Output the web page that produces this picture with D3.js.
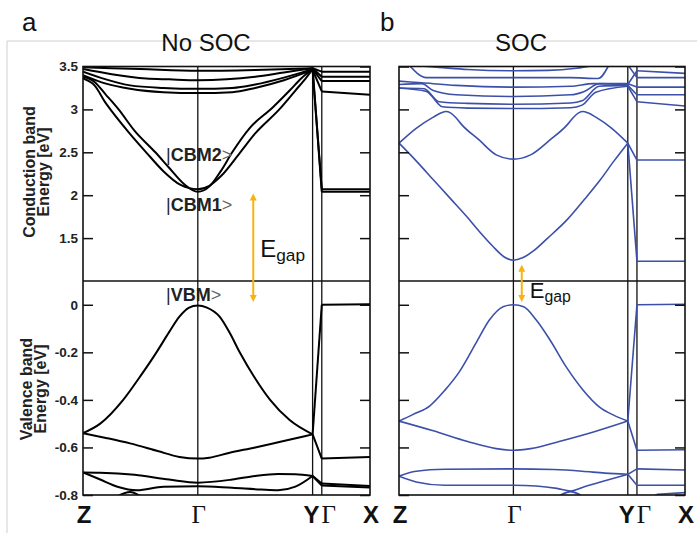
<!DOCTYPE html>
<html><head><meta charset="utf-8">
<script src="https://cdn.jsdelivr.net/npm/d3@7"></script>
<style>html,body{margin:0;padding:0;background:#fff;} svg{display:block;}</style>
</head><body>
<svg id="chart" width="697" height="535"></svg>
<script>
// ---------- data (k path: Z=0, Γ=1, Y=2, Γ=2.08, X=2.5 ; energies in eV) ----------
const kPoints = [0, 1, 2, 2.08, 2.5];
const kLabels = ["Z", "Γ", "Y", "Γ", "X"];
const condTicks = [3.5, 3, 2.5, 2, 1.5];
const condTickLabels = ["3.5", "3", "2.5", "2", "1.5"];
const valTicks = [0, -0.2, -0.4, -0.6, -0.8];
const valTickLabels = ["0", "-0.2", "-0.4", "-0.6", "-0.8"];
const condRange = [1.0, 3.5];
const valRange = [-0.8, 0.1];

// No SOC – conduction bands
const noSocCond = [
  [[0,3.49],[0.5,3.47],[1,3.45],[1.5,3.46],[2,3.48],[2.08,3.44],[2.5,3.44]],
  [[0,3.47],[0.25,3.41],[0.55,3.36],[0.75,3.35],[1,3.34],[1.25,3.35],[1.5,3.38],[1.75,3.43],[2,3.48],[2.08,3.38],[2.5,3.38]],
  [[0,3.44],[0.2,3.35],[0.41,3.28],[0.7,3.25],[1,3.24],[1.3,3.25],[1.5,3.29],[1.75,3.37],[2,3.47],[2.08,3.33],[2.5,3.33]],
  [[0,3.40],[0.2,3.30],[0.41,3.24],[0.7,3.20],[1,3.19],[1.3,3.20],[1.5,3.25],[1.75,3.34],[2,3.46],[2.08,3.21],[2.5,3.17]],
  [[0,3.38],[0.1,3.32],[0.2,3.17],[0.31,3.0],[0.45,2.75],[0.63,2.5],[0.75,2.32],[0.88,2.13],[1,2.04],[1.1,2.10],[1.2,2.28],[1.3,2.50],[1.45,2.78],[1.65,3.02],[1.8,3.22],[1.9,3.36],[2,3.47],[2.08,2.04],[2.5,2.04]],
  [[0,3.36],[0.1,3.28],[0.2,3.07],[0.25,2.98],[0.4,2.73],[0.55,2.50],[0.7,2.28],[0.85,2.12],[1,2.07],[1.1,2.11],[1.2,2.22],[1.37,2.50],[1.5,2.72],[1.71,3.0],[1.85,3.22],[1.95,3.38],[2,3.47],[2.08,2.07],[2.5,2.07]]
];
// No SOC – valence bands
const noSocVal = [
  [[0,-0.54],[0.15,-0.50],[0.35,-0.40],[0.5,-0.30],[0.64,-0.20],[0.75,-0.115],[0.84,-0.05],[0.92,-0.013],[1,-0.003],[1.08,-0.012],[1.19,-0.05],[1.28,-0.12],[1.365,-0.20],[1.5,-0.31],[1.63,-0.40],[1.8,-0.485],[2,-0.545],[2.08,0.0],[2.5,0.002]],
  [[0,-0.54],[0.2,-0.56],[0.41,-0.583],[0.65,-0.615],[0.84,-0.64],[1,-0.647],[1.1,-0.643],[1.27,-0.623],[1.5,-0.60],[1.71,-0.577],[2,-0.545],[2.08,-0.647],[2.5,-0.64]],
  [[0,-0.705],[0.15,-0.706],[0.45,-0.715],[0.75,-0.735],[1,-0.748],[1.3,-0.735],[1.5,-0.72],[1.7,-0.712],[1.85,-0.713],[2,-0.72],[2.08,-0.752],[2.5,-0.762]],
  [[0,-0.705],[0.15,-0.735],[0.3,-0.765],[0.47,-0.78],[0.7,-0.765],[1,-0.763],[1.3,-0.77],[1.55,-0.777],[1.7,-0.78],[1.85,-0.765],[2,-0.72],[2.08,-0.76],[2.5,-0.768]],
  [[0.3,-0.805],[0.41,-0.787],[0.5,-0.805]]
];
// SOC – conduction bands
const socCond = [
  [[0.08,3.53],[0.24,3.37],[0.5,3.37],[1,3.37],[1.5,3.37],[1.74,3.36],[1.84,3.53]],
  [[0.15,3.51],[0.35,3.49],[0.6,3.465],[1,3.45],[1.3,3.455],[1.55,3.48],[1.7,3.51]],
  [[0,3.33],[0.2,3.31],[0.5,3.28],[1,3.26],[1.5,3.27],[1.7,3.30],[2,3.29],[2.08,3.45],[2.5,3.42]],
  [[0,3.29],[0.2,3.30],[0.3,3.22],[0.5,3.17],[1,3.15],[1.5,3.17],[1.62,3.21],[1.75,3.30],[2,3.30],[2.08,3.26],[2.5,3.26]],
  [[0,3.25],[0.22,3.24],[0.35,3.09],[0.6,3.07],[1,3.06],[1.5,3.075],[1.6,3.10],[1.75,3.27],[2,3.28],[2.08,3.17],[2.5,3.17]],
  [[0,3.25],[0.24,3.21],[0.38,3.03],[0.6,3.015],[1,3.01],[1.5,3.02],[1.6,3.05],[1.72,3.20],[2,3.27],[2.08,3.09],[2.5,3.04]],
  [[2,3.52],[2.08,3.37],[2.5,3.37]],
  [[0,2.607],[0.15,2.78],[0.3,2.91],[0.37,2.96],[0.41,2.975],[0.45,2.96],[0.5,2.90],[0.55,2.82],[0.7,2.645],[0.85,2.47],[1,2.42],[1.15,2.47],[1.32,2.645],[1.47,2.82],[1.52,2.90],[1.57,2.96],[1.61,2.975],[1.65,2.96],[1.72,2.91],[1.86,2.78],[2,2.607],[2.08,2.41],[2.5,2.41]],
  [[0,2.607],[0.15,2.40],[0.3,2.18],[0.45,1.96],[0.59,1.754],[0.7,1.58],[0.82,1.405],[0.92,1.28],[1,1.242],[1.08,1.27],[1.175,1.35],[1.3,1.50],[1.47,1.715],[1.62,1.95],[1.76,2.18],[1.88,2.40],[2,2.607],[2.08,1.23],[2.5,1.23]]
];
// SOC – valence bands
const socVal = [
  [[0,-0.489],[0.12,-0.462],[0.27,-0.425],[0.4,-0.36],[0.53,-0.28],[0.68,-0.155],[0.79,-0.064],[0.91,-0.008],[1,0.0],[1.09,-0.008],[1.2,-0.064],[1.32,-0.148],[1.46,-0.26],[1.61,-0.359],[1.75,-0.429],[1.88,-0.465],[2,-0.489],[2.08,0.0],[2.5,0.002]],
  [[0,-0.489],[0.3,-0.53],[0.6,-0.575],[0.85,-0.605],[1,-0.612],[1.15,-0.605],[1.4,-0.575],[1.7,-0.535],[2,-0.489],[2.08,-0.612],[2.5,-0.61]],
  [[0,-0.721],[0.15,-0.70],[0.4,-0.692],[1,-0.69],[1.35,-0.693],[1.6,-0.70],[1.8,-0.708],[2,-0.713],[2.08,-0.69],[2.5,-0.695]],
  [[0,-0.721],[0.15,-0.745],[0.4,-0.759],[1,-0.759],[1.2,-0.762],[1.38,-0.772],[1.5,-0.783],[1.62,-0.765],[1.8,-0.74],[2,-0.713],[2.08,-0.759],[2.5,-0.759]],
  [[1.38,-0.81],[1.5,-0.786],[1.62,-0.81]],
  [[2.2,-0.81],[2.26,-0.797],[2.5,-0.79]]
];
// gap arrows: [k position, top energy (conduction), bottom energy (valence)]
const gapLeft = [1.483, 2.02, 0.012];
const gapRight = [1.073, 1.19, 0.012];

// ---------- drawing ----------
const svg = d3.select("#chart");
svg.append("rect").attr("width",697).attr("height",535).attr("fill","#fff");
const SANS = "'Liberation Sans', Arial, Helvetica, sans-serif";
const SERIF = "'Liberation Serif', 'Times New Roman', serif";
const ORANGE = "#f6b40e";

// light gray frame
svg.append("line").attr("x1",7).attr("y1",41).attr("x2",697).attr("y2",41).attr("stroke","#cfcfcf").attr("stroke-width",1);
svg.append("line").attr("x1",7).attr("y1",41).attr("x2",7).attr("y2",533).attr("stroke","#cfcfcf").attr("stroke-width",1);

const panels = [
  {id:"a", x0:83, x1:370, cond:noSocCond, val:noSocVal, color:"#000", sw:2, labels:true},
  {id:"b", x0:399, x1:685, cond:socCond, val:socVal, color:"#3c50aa", sw:1.6, labels:false}
];
const yC = d3.scaleLinear().domain(condRange).range([281, 66.5]);
const yV = d3.scaleLinear().domain(valRange).range([495, 281]);

function split(band){
  const a = band.filter(p=>p[0]<=2), b = band.filter(p=>p[0]>=2 && p[0]<=2.08), c = band.filter(p=>p[0]>=2.08);
  return [[a,true],[b,false],[c,false]].filter(s=>s[0].length>=2);
}

panels.forEach(p=>{
  const x = d3.scaleLinear().domain([0,2.5]).range([p.x0,p.x1]);
  p.x = x;
  const defs = svg.append("defs");
  defs.append("clipPath").attr("id","cc"+p.id).append("rect").attr("x",p.x0).attr("y",yC.range()[1]).attr("width",p.x1-p.x0).attr("height",yC.range()[0]-yC.range()[1]);
  defs.append("clipPath").attr("id","cv"+p.id).append("rect").attr("x",p.x0).attr("y",yV.range()[1]).attr("width",p.x1-p.x0).attr("height",yV.range()[0]-yV.range()[1]);

  // high-symmetry vertical lines
  svg.append("g").selectAll("line").data(kPoints.slice(1,4)).join("line")
    .attr("x1",d=>x(d)).attr("x2",d=>x(d)).attr("y1",yC.range()[1]).attr("y2",yV.range()[0])
    .attr("stroke","#111").attr("stroke-width",1.3);
  // divider
  svg.append("line").attr("x1",p.x0).attr("x2",p.x1).attr("y1",281).attr("y2",281).attr("stroke","#111").attr("stroke-width",1.3);

  const lineSmooth = (sc)=>d3.line().x(d=>x(d[0])).y(d=>sc(d[1])).curve(d3.curveMonotoneX);
  const lineStraight = (sc)=>d3.line().x(d=>x(d[0])).y(d=>sc(d[1]));
  [[p.cond,yC,"cc"],[p.val,yV,"cv"]].forEach(([bands,sc,cid])=>{
    const g = svg.append("g").attr("clip-path",`url(#${cid}${p.id})`);
    bands.forEach(b=>{
      split(b).forEach(([pts,smooth])=>{
        g.append("path").attr("d",(smooth?lineSmooth(sc):lineStraight(sc))(pts))
          .attr("fill","none").attr("stroke",p.color).attr("stroke-width",p.sw).attr("stroke-linejoin","round");
      });
    });
  });

  // ticks
  const tickStyle = g=>{
    g.select(".domain").remove();
    g.selectAll(".tick line").attr("stroke","#111").attr("stroke-width",1.5);
    g.selectAll(".tick text").attr("font-family",SANS).attr("font-weight","bold").attr("font-size",13.5).attr("fill","#222");
  };
  svg.append("g").attr("transform",`translate(${p.x0},0)`)
    .call(d3.axisLeft(yC).tickValues(condTicks).tickSize(-10).tickPadding(5).tickFormat((d,i)=>p.labels?condTickLabels[i]:""))
    .call(tickStyle);
  svg.append("g").attr("transform",`translate(${p.x0},0)`)
    .call(d3.axisLeft(yV).tickValues(valTicks).tickSize(-10).tickPadding(5).tickFormat((d,i)=>p.labels?valTickLabels[i]:""))
    .call(tickStyle);
  svg.append("g").attr("transform",`translate(${p.x1},0)`)
    .call(d3.axisRight(yC).tickValues(condTicks).tickSize(-10).tickFormat("")).call(tickStyle);
  svg.append("g").attr("transform",`translate(${p.x1},0)`)
    .call(d3.axisRight(yV).tickValues(valTicks).tickSize(-10).tickFormat("")).call(tickStyle);

  // frame
  svg.append("rect").attr("x",p.x0).attr("y",yC.range()[1]).attr("width",p.x1-p.x0).attr("height",yV.range()[0]-yC.range()[1])
    .attr("fill","none").attr("stroke","#111").attr("stroke-width",1.6);

  // k labels
  const offs = [1, 1, -1, 7, 1];
  kPoints.forEach((k,i)=>{
    const isG = kLabels[i]==="Γ";
    svg.append("text").attr("x",x(k)+offs[i]).attr("y",523).attr("text-anchor","middle")
      .attr("font-family",isG?SERIF:SANS).attr("font-weight",isG?"normal":"bold")
      .attr("font-size",isG?25:24).attr("fill","#111").text(kLabels[i]);
  });
});

// titles / panel letters
svg.append("text").attr("x",22).attr("y",31).attr("font-family",SANS).attr("font-size",26).attr("fill","#111").text("a");
svg.append("text").attr("x",380).attr("y",31).attr("font-family",SANS).attr("font-size",26).attr("fill","#111").text("b");
svg.append("text").attr("x",206).attr("y",51).attr("text-anchor","middle").attr("font-family",SANS).attr("font-size",24).attr("fill","#111").text("No SOC");
svg.append("text").attr("x",521).attr("y",51).attr("text-anchor","middle").attr("font-family",SANS).attr("font-size",24).attr("fill","#111").text("SOC");

// y-axis titles
function vtitle(lines, xs, cy){
  lines.forEach((t,i)=>{
    svg.append("text").attr("transform",`translate(${xs[i]},${cy}) rotate(-90)`).attr("text-anchor","middle")
      .attr("font-family",SANS).attr("font-weight","bold").attr("font-size",16).attr("fill","#222").text(t);
  });
}
vtitle(["Conduction band","Energy [eV]"],[35,49],172);
vtitle(["Valence band","Energy [eV]"],[32,46],389);

// state labels
function ket(x,y,name){
  const t = svg.append("text").attr("x",x).attr("y",y).attr("font-family",SANS).attr("font-size",18).attr("fill","#222");
  t.append("tspan").attr("font-weight","normal").text("|");
  t.append("tspan").attr("font-weight","bold").text(name);
  t.append("tspan").attr("font-weight","normal").attr("fill","#666").text(">");
}
ket(166,161,"CBM2");
ket(166,211,"CBM1");
ket(166,301,"VBM");

// gap arrows
function gapArrow(px, g, ex, ey, fs){
  const xx = px.x(g[0]), y1 = yC(g[1]), y2 = yV(g[2]);
  svg.append("line").attr("x1",xx).attr("x2",xx).attr("y1",y1+5).attr("y2",y2-5).attr("stroke",ORANGE).attr("stroke-width",2);
  svg.append("path").attr("d",`M${xx},${y1} L${xx-3.5},${y1+7} L${xx+3.5},${y1+7} Z`).attr("fill",ORANGE);
  svg.append("path").attr("d",`M${xx},${y2} L${xx-3.5},${y2-7} L${xx+3.5},${y2-7} Z`).attr("fill",ORANGE);
  const t = svg.append("text").attr("x",xx+ex).attr("y",ey).attr("font-family",SANS).attr("font-size",fs).attr("fill","#111");
  t.append("tspan").text("E");
  t.append("tspan").attr("font-size",fs*0.72).attr("dy",4).text("gap");
}
gapArrow(panels[0], gapLeft, 7, 257, 24);
gapArrow(panels[1], gapRight, 8, 298, 22);
</script>
</body></html>
